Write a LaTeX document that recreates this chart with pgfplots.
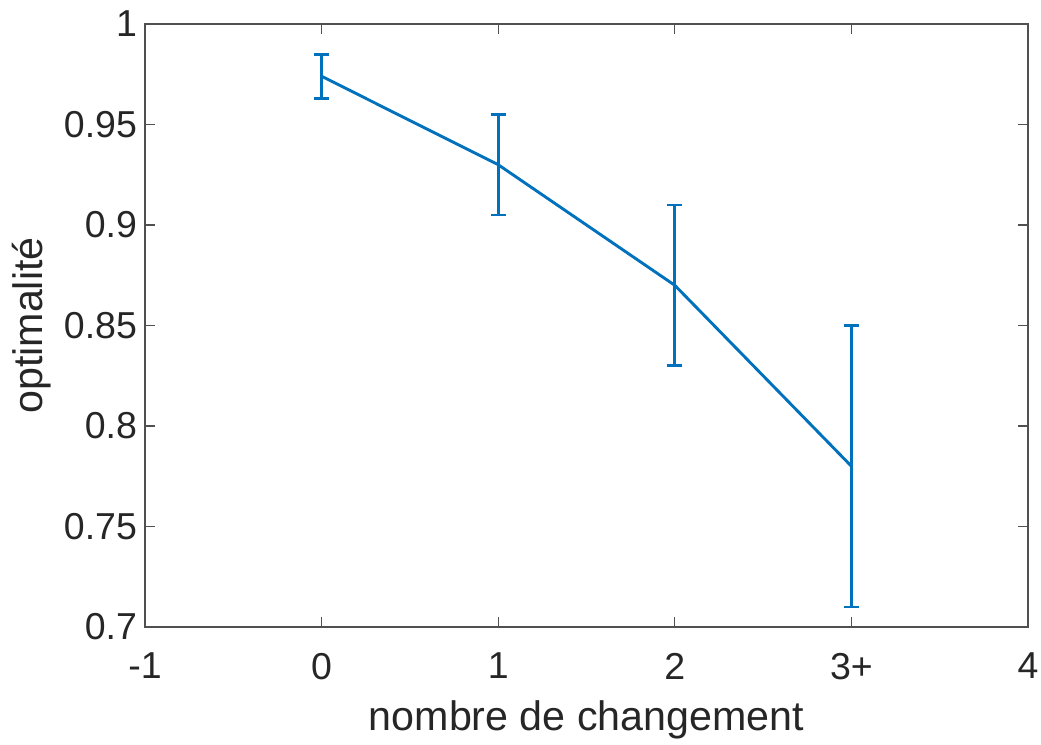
\documentclass[border=0pt]{standalone}
\usepackage{pgfplots}
\pgfplotsset{compat=1.18}
\usepackage{fontspec}
\setmainfont{Liberation Sans}
\definecolor{mblue}{RGB}{0,114,189}
\definecolor{mgray}{RGB}{38,38,38}
\definecolor{agray}{RGB}{80,80,80}
\begin{document}
\begin{tikzpicture}
\begin{axis}[
  name=ax,
  scale only axis,
  width=441.5pt, height=301.5pt,
  xmin=-1, xmax=4, ymin=0.7, ymax=1,
  xtick={-1,0,1,2,3,4},
  xticklabels={-1,0,1,2,3+,4},
  ytick={0.7,0.75,0.8,0.85,0.9,0.95,1},
  yticklabels={0.7,0.75,0.8,0.85,0.9,0.95,1},
  tick align=inside,
  major tick length=5pt,
  axis line style={agray, line width=0.6pt},
  tick style={agray, line width=0.6pt},
  ticklabel style={font=\fontsize{18.75}{20}\selectfont, text=mgray},
  xticklabel style={anchor=north, yshift=-9.5pt},
  yticklabel style={anchor=east, xshift=-0.5pt},
  xlabel={nombre de changement},
  ylabel={optimalité},
  xlabel style={font=\fontsize{20.6}{24}\selectfont, text=mgray,
    at={(axis description cs:0.5,0)}, anchor=base, yshift=-51.5pt},
  ylabel style={font=\fontsize{20.6}{24}\selectfont, text=mgray,
    at={(axis description cs:0,0.5)}, anchor=base, rotate=0, yshift=51pt},
]
\addplot[mblue, line width=1.45pt, mark=none,
  error bars/.cd, y dir=both, y explicit,
  error bar style={line width=1.4pt, mblue},
  error mark options={rotate=90, mark size=3.75pt, line width=1.4pt, mblue}]
  coordinates {
  (0,0.974) +- (0,0.011)
  (1,0.930) +- (0,0.025)
  (2,0.870) +- (0,0.040)
  (3,0.780) +- (0,0.070)
  };
\end{axis}
\pgfresetboundingbox
\path ([xshift=-72.5pt, yshift=-58.5pt]ax.south west) rectangle ([xshift=6.5pt, yshift=12pt]ax.north east);
\end{tikzpicture}
\end{document}
